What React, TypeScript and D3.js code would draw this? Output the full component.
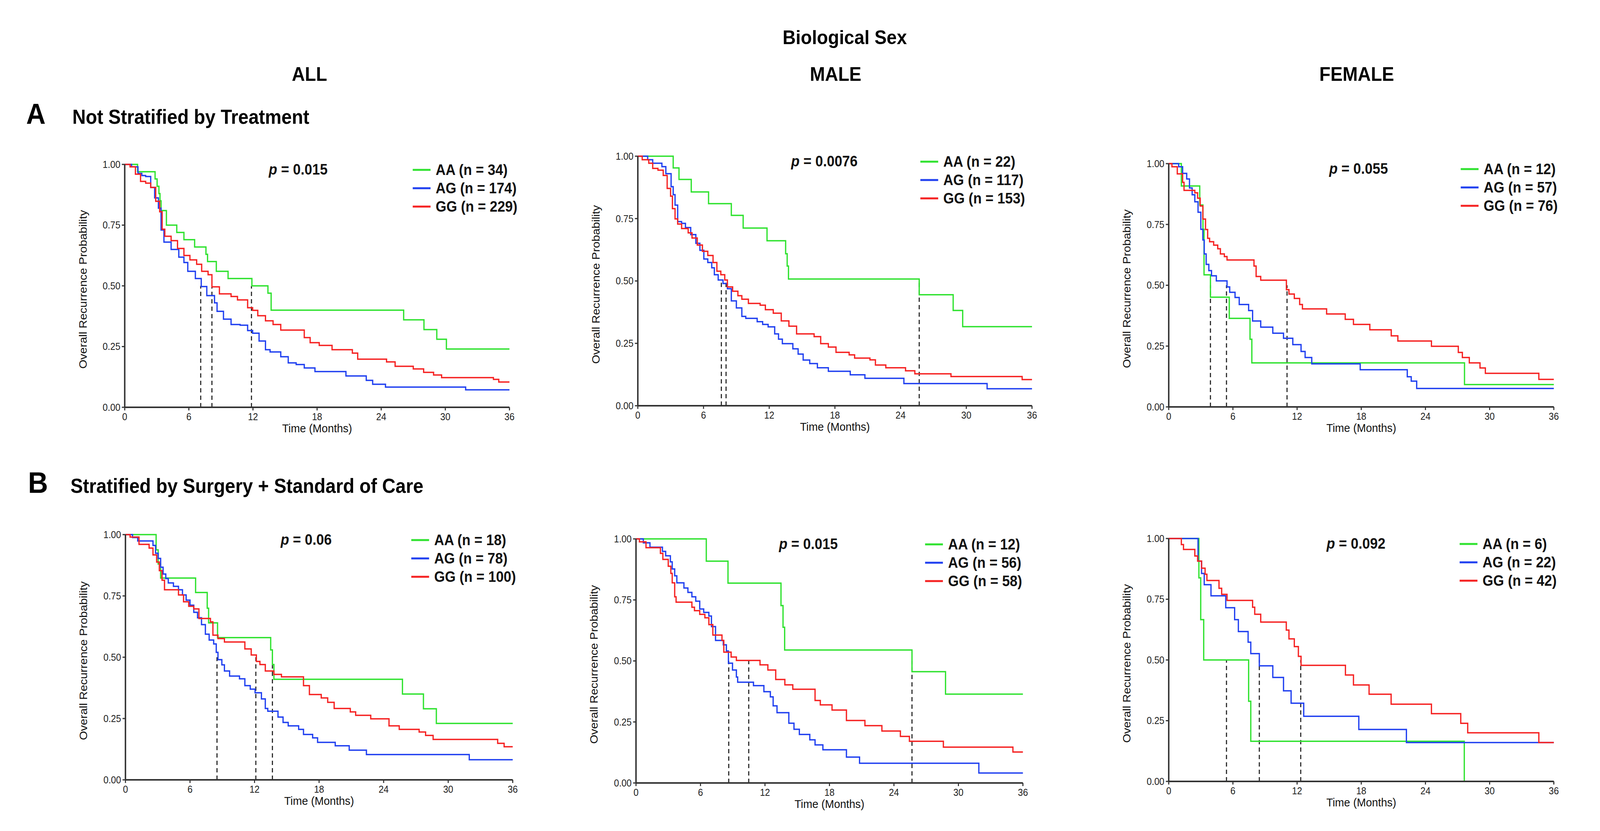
import * as d3 from 'd3';

type Pt = [number, number];

// genotype groups, colours of the three curves
const groups = ['AA', 'AG', 'GG'];
const groupColors = ['#2fe22f', '#2040f0', '#f52222'];

const xTicks = [0, 6, 12, 18, 24, 30, 36];
const yTicks = [0, 0.25, 0.5, 0.75, 1];

const colTitles = ['ALL', 'MALE', 'FEMALE'];

// Kaplan-Meier steps: [months, probability]
const aAllAA: Pt[] = [[0,1],[1.2,0.97],[2.84,0.94],[3.03,0.91],[3.2,0.88],[3.3,0.85],[3.4,0.81],[3.9,0.75],[4.87,0.72],[5.54,0.69],[6.54,0.66],[7.6,0.63],[7.75,0.6],[8.57,0.56],[9.67,0.53],[11.9,0.5],[13.4,0.47],[13.7,0.4],[26.1,0.36],[28.0,0.32],[29.2,0.28],[30.1,0.24],[36,0.24]];
const aAllAG: Pt[] = [[0,1],[0.64,0.99],[1.24,0.963],[1.6,0.954],[1.96,0.95],[2.43,0.905],[2.8,0.862],[3.15,0.82],[3.4,0.73],[3.67,0.68],[4.34,0.65],[5.06,0.618],[5.54,0.596],[5.9,0.56],[6.61,0.53],[7.16,0.497],[7.68,0.46],[8.4,0.43],[8.64,0.395],[9.24,0.363],[9.95,0.341],[10.8,0.338],[11.5,0.316],[11.97,0.305],[12.57,0.273],[13.17,0.237],[13.6,0.228],[14.6,0.208],[15.3,0.183],[16.04,0.176],[16.8,0.162],[17.8,0.147],[20.7,0.129],[22.6,0.111],[23.2,0.095],[24.4,0.083],[31.9,0.072],[36,0.072]];
const aAllGG: Pt[] = [[0,1],[0.5,0.99],[1.0,0.96],[1.48,0.93],[1.96,0.923],[2.43,0.905],[2.9,0.848],[3.27,0.805],[3.5,0.733],[3.75,0.704],[4.34,0.686],[4.94,0.654],[5.54,0.625],[6.1,0.607],[6.73,0.589],[7.2,0.56],[7.8,0.546],[8.16,0.496],[8.86,0.467],[9.95,0.456],[10.55,0.442],[11.5,0.41],[11.97,0.399],[12.45,0.377],[13.17,0.356],[13.88,0.341],[14.6,0.318],[16.8,0.287],[17.35,0.266],[18.2,0.255],[19.4,0.237],[21.3,0.223],[21.8,0.198],[24.5,0.187],[25.3,0.169],[27.0,0.158],[27.97,0.144],[28.9,0.133],[29.65,0.122],[34.5,0.115],[35.0,0.104],[36,0.104]];

const aMaleAA: Pt[] = [[0,1],[3.23,0.953],[3.76,0.907],[4.88,0.857],[6.46,0.81],[8.54,0.763],[9.62,0.712],[11.8,0.661],[13.5,0.609],[13.64,0.56],[13.76,0.508],[25.7,0.445],[28.8,0.382],[29.67,0.317],[36,0.317]];
const aMaleAG: Pt[] = [[0,1],[0.9,0.986],[1.36,0.972],[2.2,0.958],[2.56,0.93],[3.04,0.878],[3.23,0.846],[3.4,0.804],[3.64,0.738],[4.0,0.731],[4.35,0.714],[4.83,0.686],[5.3,0.651],[5.67,0.623],[6.03,0.588],[6.39,0.574],[6.75,0.553],[6.99,0.525],[7.34,0.504],[7.78,0.49],[8.18,0.469],[8.54,0.42],[9.0,0.392],[9.5,0.358],[9.86,0.35],[10.9,0.337],[11.4,0.326],[11.9,0.316],[12.5,0.288],[12.85,0.267],[13.2,0.249],[14.16,0.228],[14.64,0.207],[15.1,0.183],[15.7,0.169],[16.4,0.152],[17.4,0.138],[19.4,0.124],[20.74,0.11],[24.3,0.089],[31.9,0.068],[36,0.068]];
const aMaleGG: Pt[] = [[0,1],[0.4,0.986],[1.0,0.972],[1.36,0.951],[1.84,0.944],[2.32,0.923],[2.68,0.871],[2.99,0.84],[3.16,0.79],[3.4,0.749],[3.64,0.728],[4.0,0.71],[4.6,0.693],[4.95,0.672],[5.43,0.644],[5.9,0.619],[6.39,0.602],[6.87,0.574],[7.22,0.539],[7.58,0.525],[7.94,0.504],[8.18,0.476],[8.66,0.459],[9.14,0.441],[9.5,0.427],[10.1,0.41],[11.17,0.403],[11.65,0.385],[12.37,0.371],[13.1,0.34],[13.8,0.319],[14.5,0.288],[16.1,0.277],[16.7,0.249],[17.4,0.235],[18.1,0.214],[19.3,0.204],[19.8,0.191],[21.2,0.184],[21.7,0.163],[22.65,0.152],[24.45,0.14],[25.3,0.128],[28.6,0.117],[35.1,0.105],[36,0.105]];

const aFemAA: Pt[] = [[0,1],[1.18,0.908],[2.9,0.83],[3.2,0.73],[3.3,0.543],[3.9,0.451],[5.66,0.364],[7.6,0.278],[7.77,0.181],[27.65,0.092],[36,0.092]];
const aFemAG: Pt[] = [[0,1],[0.93,0.987],[1.3,0.96],[1.68,0.937],[1.94,0.9],[2.19,0.872],[2.44,0.843],[2.74,0.8],[3.0,0.73],[3.19,0.686],[3.32,0.629],[3.5,0.586],[3.75,0.56],[4.0,0.539],[4.45,0.518],[5.45,0.493],[5.7,0.471],[6.2,0.45],[6.59,0.421],[7.47,0.396],[7.84,0.353],[8.6,0.328],[9.73,0.303],[10.73,0.282],[11.6,0.256],[12.37,0.228],[12.75,0.203],[13.37,0.177],[17.9,0.153],[22.3,0.124],[22.67,0.106],[23.18,0.076],[36,0.076]];
const aFemGG: Pt[] = [[0,1],[0.3,0.987],[0.8,0.958],[1.3,0.923],[1.43,0.89],[2.44,0.88],[2.7,0.858],[2.94,0.826],[3.19,0.772],[3.44,0.729],[3.64,0.693],[3.82,0.679],[4.2,0.665],[4.58,0.65],[4.83,0.629],[5.2,0.618],[5.45,0.604],[7.97,0.579],[8.17,0.536],[8.6,0.521],[11.0,0.482],[11.24,0.464],[11.74,0.446],[12.24,0.421],[12.5,0.403],[14.76,0.382],[16.5,0.36],[17.27,0.339],[18.8,0.317],[20.8,0.292],[21.42,0.271],[24.56,0.249],[27.07,0.224],[27.45,0.203],[28.1,0.181],[29.1,0.16],[29.6,0.138],[34.6,0.113],[36,0.113]];

const bAllAA: Pt[] = [[0,1],[2.85,0.938],[3.04,0.88],[3.27,0.823],[6.52,0.764],[7.6,0.7],[7.73,0.64],[8.56,0.58],[13.5,0.53],[13.66,0.47],[13.8,0.41],[25.75,0.35],[27.7,0.29],[28.9,0.23],[36,0.23]];
const bAllAG: Pt[] = [[0,1],[0.66,0.988],[1.14,0.974],[2.56,0.956],[2.8,0.924],[3.04,0.903],[3.27,0.867],[3.5,0.839],[3.75,0.821],[3.98,0.803],[4.46,0.789],[4.93,0.775],[5.3,0.754],[5.64,0.733],[6.0,0.712],[6.35,0.683],[6.7,0.661],[7.07,0.633],[7.43,0.594],[7.78,0.57],[8.2,0.554],[8.44,0.52],[8.6,0.49],[8.96,0.469],[9.2,0.444],[9.68,0.423],[10.6,0.412],[11.1,0.384],[11.6,0.37],[12.05,0.355],[12.64,0.33],[13.0,0.291],[13.23,0.28],[14.18,0.256],[14.65,0.234],[15.13,0.22],[16.1,0.206],[16.55,0.185],[17.4,0.171],[17.86,0.153],[19.5,0.139],[20.8,0.121],[22.4,0.103],[31.96,0.082],[36,0.082]];
const bAllGG: Pt[] = [[0,1],[0.43,0.99],[1.26,0.96],[2.2,0.945],[2.56,0.917],[2.9,0.888],[3.15,0.853],[3.4,0.814],[3.63,0.775],[4.93,0.754],[5.4,0.726],[5.88,0.708],[6.35,0.697],[6.83,0.658],[7.9,0.644],[8.13,0.59],[8.6,0.576],[9.2,0.562],[11.1,0.534],[11.69,0.509],[12.17,0.483],[12.5,0.47],[13.0,0.444],[13.8,0.43],[14.5,0.42],[16.55,0.384],[17.1,0.348],[18.2,0.334],[18.8,0.316],[19.4,0.291],[20.9,0.277],[21.4,0.263],[22.8,0.249],[24.5,0.22],[25.45,0.206],[27.3,0.195],[27.9,0.181],[28.6,0.165],[34.6,0.149],[35.2,0.135],[36,0.135]];

const bMaleAA: Pt[] = [[0,1],[6.54,0.909],[8.56,0.819],[13.49,0.727],[13.68,0.638],[13.83,0.545],[25.68,0.456],[28.8,0.364],[36,0.364]];
const bMaleAG: Pt[] = [[0,1],[0.68,0.984],[1.3,0.966],[2.46,0.949],[2.76,0.931],[3.2,0.906],[3.37,0.877],[3.6,0.849],[3.8,0.82],[4.46,0.799],[4.83,0.781],[5.2,0.763],[5.56,0.745],[5.93,0.713],[6.3,0.699],[6.78,0.684],[7.02,0.641],[7.4,0.584],[8.12,0.566],[8.41,0.541],[8.6,0.491],[8.98,0.463],[9.34,0.434],[9.46,0.413],[10.93,0.399],[11.9,0.374],[12.5,0.353],[12.76,0.316],[13.12,0.288],[14.22,0.245],[14.7,0.22],[15.2,0.199],[16.17,0.177],[16.66,0.156],[17.39,0.136],[19.58,0.106],[20.8,0.081],[31.9,0.041],[36,0.041]];
const bMaleGG: Pt[] = [[0,1],[0.32,0.988],[0.93,0.964],[2.27,0.941],[2.5,0.916],[3.0,0.888],[3.24,0.859],[3.37,0.82],[3.6,0.763],[3.73,0.741],[5.2,0.72],[5.44,0.706],[5.93,0.691],[6.41,0.677],[6.78,0.649],[7.15,0.606],[8.0,0.584],[8.17,0.536],[8.85,0.516],[9.34,0.502],[11.54,0.484],[12.27,0.463],[13.0,0.424],[13.85,0.402],[14.59,0.384],[16.66,0.338],[17.15,0.32],[18.24,0.299],[19.58,0.256],[21.3,0.235],[22.88,0.213],[24.6,0.191],[25.44,0.171],[28.6,0.147],[35.07,0.127],[36,0.127]];

const bFemAA: Pt[] = [[0,1],[2.82,0.838],[2.99,0.666],[3.27,0.5],[7.47,0.33],[7.67,0.165],[27.63,0]];
const bFemAG: Pt[] = [[0,1],[2.74,0.907],[3.07,0.856],[3.32,0.81],[3.95,0.764],[5.33,0.715],[6.16,0.666],[6.51,0.617],[7.42,0.573],[7.67,0.526],[8.47,0.476],[9.73,0.428],[10.73,0.373],[11.44,0.322],[12.62,0.268],[17.77,0.214],[22.22,0.16],[36,0.16]];
const bFemGG: Pt[] = [[0,1],[1.18,0.975],[1.38,0.955],[2.44,0.928],[2.7,0.907],[3.07,0.878],[3.4,0.853],[3.57,0.827],[4.7,0.795],[4.95,0.77],[5.45,0.745],[7.84,0.717],[8.04,0.688],[8.6,0.656],[10.99,0.623],[11.24,0.587],[11.74,0.555],[12.12,0.515],[12.37,0.478],[16.52,0.438],[17.27,0.397],[18.73,0.359],[20.79,0.318],[24.56,0.279],[27.3,0.239],[27.95,0.2],[34.6,0.16],[36,0.16]];

// median survival times (dashed drop lines)
const medians = [
  [7.11, 8.16, 11.86], [7.63, 8.06, 25.7], [3.9, 5.4, 11.06],
  [8.51, 12.12, 13.66], [8.63, 10.49, 25.68], [5.4, 8.47, 12.34],
];
const pValues = ['0.015', '0.0076', '0.055', '0.06', '0.015', '0.092'];
const groupN = [
  [34, 174, 229], [22, 117, 153], [12, 57, 76],
  [18, 78, 100], [12, 56, 58], [6, 22, 42],
];
const curves: Pt[][][] = [
  [aAllAA, aAllAG, aAllGG], [aMaleAA, aMaleAG, aMaleGG], [aFemAA, aFemAG, aFemGG],
  [bAllAA, bAllAG, bAllGG], [bMaleAA, bMaleAG, bMaleGG], [bFemAA, bFemAG, bFemGG],
];

// panel frames in page pixels
const frames = [
  { x0: 343, x1: 1401, top: 421, bot: 1043, pX: 820, legX: 1135 },
  { x0: 1754, x1: 2838, top: 400, bot: 1039, pX: 2267, legX: 2531 },
  { x0: 3214, x1: 4273, top: 419, bot: 1042, pX: 3736, legX: 4017 },
  { x0: 345, x1: 1410, top: 1369, bot: 1997, pX: 842, legX: 1131 },
  { x0: 1749, x1: 2813, top: 1380, bot: 2005, pX: 2223, legX: 2544 },
  { x0: 3214, x1: 4273, top: 1379, bot: 2001, pX: 3729, legX: 4014 },
];

const FONT = 'Liberation Sans, Arial, Helvetica, sans-serif';
const fmt = d3.format('.2f');

function Panel({ i }: { i: number }) {
  const f = frames[i];
  const x = d3.scaleLinear().domain([0, 36]).range([f.x0, f.x1]);
  const y = d3.scaleLinear().domain([0, 1]).range([f.bot, f.top]);
  const line = d3.line<Pt>().x(d => x(d[0])).y(d => y(d[1])).curve(d3.curveStepAfter);
  const midY = (f.top + f.bot) / 2;
  return (
    <g fontFamily={FONT}>
      {medians[i].map((m, k) => (
        <line key={'m' + k} x1={x(m)} x2={x(m)} y1={y(0)} y2={y(0.5)}
          stroke="#222" strokeWidth={3} strokeDasharray="11,8" />
      ))}
      {curves[i].map((c, k) => (
        <path key={'c' + k} d={line(c) || ''} fill="none" stroke={groupColors[k]} strokeWidth={3.5} />
      ))}
      {/* axes */}
      <line x1={x(0)} x2={x(36)} y1={y(0)} y2={y(0)} stroke="#333" strokeWidth={4} />
      <line x1={x(0)} x2={x(0)} y1={y(0)} y2={y(1)} stroke="#333" strokeWidth={4} />
      {xTicks.map(t => (
        <g key={'x' + t}>
          <line x1={x(t)} x2={x(t)} y1={y(0)} y2={y(0) + 8} stroke="#333" strokeWidth={3} />
          <text x={x(t)} y={y(0) + 33} fontSize={25} textAnchor="middle" fill="#222">{t}</text>
        </g>
      ))}
      {yTicks.map(t => (
        <g key={'y' + t}>
          <line x1={x(0) - 8} x2={x(0)} y1={y(t)} y2={y(t)} stroke="#333" strokeWidth={3} />
          <text x={x(0) - 12} y={y(t)} dy="0.36em" fontSize={25} textAnchor="end" fill="#222">{fmt(t)}</text>
        </g>
      ))}
      <text x={(f.x0 + f.x1) / 2} y={f.bot + 64} fontSize={30} textAnchor="middle" fill="#111">Time (Months)</text>
      <text transform={`translate(${f.x0 - 105},${midY + 9}) rotate(-90)`} fontSize={30}
        textAnchor="middle" fill="#111">Overall Recurrence Probability</text>
      <text x={f.pX} y={f.top + 26} fontSize={38} fontWeight="bold" textAnchor="middle" fill="#111">
        <tspan fontStyle="italic">p</tspan> = {pValues[i]}
      </text>
      {groups.map((gname, k) => {
        const by = f.top + 27 + k * 47;
        return (
          <g key={'l' + k}>
            <line x1={f.legX} x2={f.legX + 49} y1={by - 13} y2={by - 13} stroke={groupColors[k]} strokeWidth={5} />
            <text x={f.legX + 63} y={by} fontSize={38} fontWeight="bold" fill="#111">
              {`${gname} (n = ${groupN[i][k]})`}
            </text>
          </g>
        );
      })}
    </g>
  );
}

export default function App() {
  return (
    <svg viewBox="0 0 4400 2128" preserveAspectRatio="none"
      style={{ position: 'absolute', left: 0, top: 0, width: '100vw', height: '100vh', display: 'block', background: '#fff' }}>
      <rect width={4400} height={2128} fill="#fff" />
      <g fontFamily={FONT} fontWeight="bold" fill="#000">
        <text x={2323} y={113} fontSize={50} textAnchor="middle">Biological Sex</text>
        <text x={851} y={207} fontSize={50} textAnchor="middle">{colTitles[0]}</text>
        <text x={2298} y={207} fontSize={50} textAnchor="middle">{colTitles[1]}</text>
        <text x={3731} y={207} fontSize={50} textAnchor="middle">{colTitles[2]}</text>
        <text x={72} y={317} fontSize={74}>A</text>
        <text x={199} y={317} fontSize={51}>Not Stratified by Treatment</text>
        <text x={77} y={1262} fontSize={76}>B</text>
        <text x={194} y={1262} fontSize={51}>Stratified by Surgery + Standard of Care</text>
      </g>
      {frames.map((_, i) => <Panel key={i} i={i} />)}
    </svg>
  );
}
